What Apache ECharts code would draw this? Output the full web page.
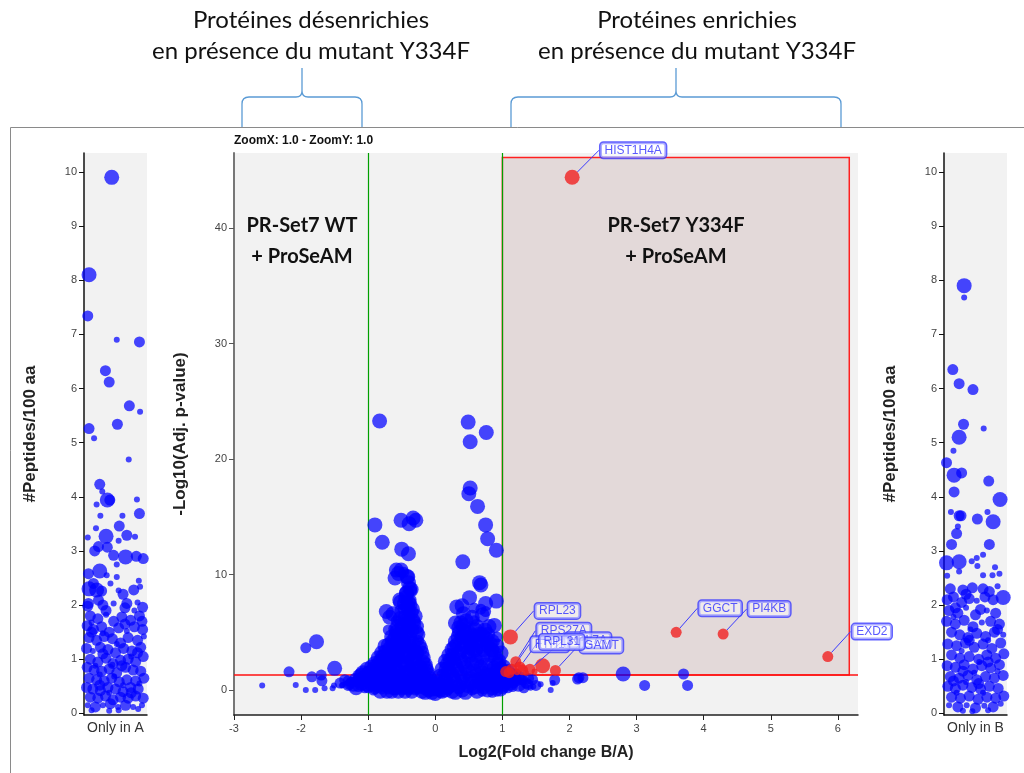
<!DOCTYPE html>
<html>
<head>
<meta charset="utf-8">
<title>Volcano plot PR-Set7</title>
<script src="https://cdn.jsdelivr.net/npm/echarts@6/dist/echarts.min.js"></script>
<style>
html,body{margin:0;padding:0;background:#fff;}
#main{width:1024px;height:773px;}
</style>
</head>
<body>
<div id="main"></div>
<script>
'use strict';
// ---- données : [x, y, taille (1 petit, 2 moyen, 3 gros)] ----
// panneau gauche : "Only in A" (x = dispersion dans la colonne)
var onlyA = [
  [0.44,9.90,3],[0.08,8.10,3],[0.06,7.34,2],[0.52,6.90,1],[0.88,6.86,2],[0.34,6.33,2],[0.40,6.12,2],
  [0.72,5.68,2],[0.89,5.57,1],[0.08,5.26,2],[0.16,5.08,1],[0.53,5.34,2],[0.71,4.69,1],[0.25,4.23,2],
  [0.29,4.10,1],[0.20,3.86,1],[0.37,3.94,3],[0.41,3.94,2],[0.84,3.95,1],[0.88,3.69,2],[0.26,3.65,1],
  [0.61,3.65,1],[0.56,3.46,2],[0.19,3.42,1],[0.68,3.29,2],[0.81,3.26,1],[0.35,3.27,3],[0.06,3.25,1],
  [0.37,3.07,2],[0.23,3.08,2],[0.17,3.00,2],[0.55,3.19,1],[0.47,2.92,2],[0.66,2.89,3],[0.83,2.90,2],
  [0.94,2.86,2],[0.52,2.75,1],[0.25,2.63,3],[0.07,2.58,2],[0.36,2.55,1],[0.52,2.52,1],[0.87,2.45,1],
  [0.08,2.30,3],[0.20,2.28,3],[0.28,2.26,2],[0.55,2.27,1],[0.79,2.28,2],[0.89,2.34,1],[0.07,2.03,2],
  [0.23,2.09,2],[0.47,2.03,1],[0.68,2.03,2],[0.93,1.96,2],
  [0.10,1.80,2],[0.22,1.75,2],[0.35,1.82,1],[0.47,1.70,2],[0.60,1.78,2],[0.74,1.72,2],[0.88,1.80,2],
  [0.05,1.62,2],[0.15,1.55,2],[0.28,1.60,2],[0.40,1.50,2],[0.55,1.58,2],[0.68,1.52,1],[0.80,1.60,2],
  [0.93,1.55,2],[0.08,1.40,2],[0.20,1.35,2],[0.32,1.42,2],[0.45,1.38,2],[0.58,1.30,2],[0.70,1.40,2],
  [0.85,1.35,2],[0.95,1.42,1],[0.04,1.20,2],[0.14,1.15,1],[0.26,1.22,2],[0.38,1.18,2],[0.50,1.12,2],
  [0.63,1.20,2],[0.76,1.15,2],[0.90,1.22,2],[0.10,1.00,2],[0.22,0.95,2],[0.35,1.02,2],[0.46,0.92,2],
  [0.58,0.98,2],[0.70,1.00,2],[0.82,0.95,2],[0.94,1.05,2],[0.05,0.85,2],[0.16,0.80,2],[0.28,0.78,2],
  [0.40,0.82,2],[0.52,0.75,2],[0.66,0.85,2],[0.78,0.80,2],[0.90,0.78,2],[0.08,0.65,2],[0.20,0.62,2],
  [0.32,0.60,2],[0.44,0.65,2],[0.56,0.58,2],[0.68,0.62,2],[0.82,0.60,2],[0.95,0.65,2],[0.04,0.48,2],
  [0.14,0.45,2],[0.26,0.42,2],[0.38,0.48,2],[0.50,0.45,2],[0.62,0.40,2],[0.74,0.48,2],[0.86,0.45,2],
  [0.10,0.30,2],[0.22,0.28,2],[0.34,0.32,2],[0.46,0.25,2],[0.58,0.30,2],[0.70,0.28,2],[0.82,0.32,2],
  [0.94,0.28,2],[0.06,0.15,1],[0.18,0.12,2],[0.30,0.15,1],[0.42,0.18,2],[0.54,0.12,1],[0.66,0.15,2],
  [0.78,0.12,1],[0.92,0.15,1],[0.12,0.06,1],[0.40,0.05,1],[0.55,0.06,1],[0.86,0.08,1],
  [0.12,1.68,1],[0.30,1.48,1],[0.52,1.28,1],[0.75,1.05,1],[0.25,0.72,1],[0.62,0.52,1],[0.40,0.38,1],
  [0.88,0.55,1],[0.18,0.88,1],[0.48,0.68,1],[0.92,1.70,2],[0.06,1.98,2],[0.30,2.00,2],[0.65,1.95,2],
  [0.85,2.05,1],[0.15,2.40,2],[0.42,2.40,1],[0.62,2.20,2],[0.35,1.90,2],[0.80,1.90,1],[0.12,1.50,2],
  [0.65,1.65,2],[0.30,1.10,2],[0.85,1.12,2],[0.60,0.88,2],[0.25,0.52,2],[0.75,0.38,2],[0.45,0.90,1]
];

// panneau droit : "Only in B"
var onlyB = [
  [0.32,7.90,3],[0.32,7.68,1],[0.14,6.35,2],[0.24,6.09,2],[0.46,5.98,2],[0.31,5.34,2],[0.63,5.26,1],
  [0.24,5.10,3],[0.15,4.85,1],[0.04,4.63,2],[0.16,4.40,3],[0.28,4.44,2],[0.71,4.29,2],[0.16,4.09,2],
  [0.89,3.95,3],[0.11,3.72,1],[0.24,3.65,2],[0.27,3.65,2],[0.53,3.59,2],[0.69,3.72,1],[0.78,3.54,3],
  [0.22,3.45,1],[0.20,3.32,2],[0.12,3.12,2],[0.72,3.12,2],[0.62,2.93,1],[0.04,2.78,3],[0.24,2.80,3],
  [0.44,2.81,1],[0.52,2.87,1],[0.53,2.72,1],[0.81,2.70,1],[0.88,2.58,1],[0.62,2.55,1],[0.05,2.54,1],
  [0.24,2.62,1],[0.77,2.55,1],[0.94,2.14,3],
  [0.05,2.10,2],[0.15,2.15,2],[0.28,2.05,2],[0.40,2.12,2],[0.52,2.08,1],[0.65,2.15,2],[0.78,2.10,2],
  [0.10,2.30,2],[0.30,2.28,2],[0.45,2.32,2],[0.62,2.30,2],[0.85,2.35,1],
  [0.08,1.90,2],[0.22,1.85,2],[0.35,1.95,1],[0.50,1.82,2],[0.68,1.90,1],[0.82,1.85,2],
  [0.04,1.70,2],[0.18,1.65,2],[0.32,1.72,2],[0.46,1.60,2],[0.60,1.68,1],[0.74,1.70,2],[0.88,1.65,2],
  [0.12,1.50,2],[0.25,1.45,2],[0.38,1.40,2],[0.52,1.48,2],[0.66,1.42,2],[0.80,1.50,2],[0.94,1.45,1],
  [0.06,1.28,2],[0.20,1.25,2],[0.34,1.30,2],[0.48,1.22,2],[0.62,1.28,2],[0.76,1.20,2],[0.90,1.30,2],
  [0.12,1.08,2],[0.25,1.02,2],[0.40,1.05,2],[0.55,1.00,2],[0.68,1.08,2],[0.82,1.02,2],[0.95,1.10,2],
  [0.05,0.88,2],[0.18,0.85,2],[0.32,0.90,2],[0.46,0.82,2],[0.60,0.88,2],[0.74,0.84,2],[0.88,0.90,2],
  [0.10,0.68,2],[0.24,0.65,2],[0.38,0.70,2],[0.52,0.62,2],[0.66,0.68,2],[0.80,0.65,2],[0.94,0.70,2],
  [0.06,0.50,2],[0.18,0.46,2],[0.30,0.52,2],[0.44,0.48,2],[0.58,0.45,2],[0.72,0.50,2],[0.86,0.46,2],
  [0.12,0.30,2],[0.26,0.28,2],[0.40,0.32,2],[0.54,0.26,2],[0.68,0.30,2],[0.82,0.28,2],[0.95,0.32,2],
  [0.08,0.15,1],[0.22,0.12,2],[0.36,0.15,1],[0.50,0.10,2],[0.64,0.14,1],[0.78,0.12,2],[0.90,0.18,1],
  [0.30,0.05,1],[0.45,0.04,1],[0.70,0.06,1],
  [0.15,1.78,1],[0.42,1.55,1],[0.70,1.35,1],[0.28,1.15,1],[0.56,0.95,1],[0.85,0.78,1],[0.35,0.58,1],
  [0.62,0.38,1],[0.20,0.38,1],[0.48,0.75,1],[0.35,2.20,2],[0.72,2.25,2],[0.18,1.95,2],[0.58,1.92,2],
  [0.40,1.35,2],[0.85,1.55,2],[0.30,0.78,2],[0.70,0.95,2],[0.15,0.60,2],[0.55,0.55,2]
];

// volcano : log2(FC B/A), -log10(p ajustée), taille
var volcanoBlue = [
  [-0.83,23.3,3],[0.49,23.2,3],[0.76,22.3,3],[0.52,21.5,3],[0.52,17.5,3],[0.50,17.0,3],[0.63,15.9,3],
  [0.75,14.3,3],[0.78,13.1,3],[0.91,12.1,3],[0.41,11.1,3],[0.66,9.3,3],[0.68,9.1,3],[0.51,8.0,3],
  [0.91,7.7,3],[0.75,7.5,3],[0.32,7.2,3],[-0.90,14.3,3],[-0.51,14.7,3],[-0.29,14.7,3],[-0.39,14.4,3],
  [-0.33,14.9,3],[-0.79,12.8,3],[-0.50,12.2,3],[-0.40,11.8,3],[-0.58,10.4,3],[-0.51,10.4,3],
  [-0.60,9.7,3],[-0.41,9.8,3],[-0.43,8.4,3],[-0.36,8.7,3],[-0.53,7.8,3],[-0.38,7.4,3],[-0.73,6.8,3],
  [-0.68,6.3,3],[-0.36,6.7,3],[-0.33,6.0,3],
  [-1.77,4.18,3],[-1.93,3.66,2],[-1.50,1.88,3],[-2.18,1.58,2],[-1.84,1.15,2],[-1.70,1.30,2],
  [-1.69,0.80,2],[-2.08,0.43,1],[-1.93,0.0,1],[-1.79,0.0,1],[-1.65,0.15,1],[-1.53,0.15,1],
  [-1.38,0.43,1],[-1.28,0.50,2],[-1.16,0.70,2],[-1.10,1.30,3],[-2.58,0.40,1],[-1.51,0.40,1],
  [-1.39,0.40,1],[-1.29,0.60,1],
  [2.80,1.39,3],[3.12,0.40,2],[3.70,1.39,2],[3.76,0.40,2],[2.14,1.07,2],[2.20,1.07,2],[1.78,0.87,2],
  [1.72,0.0,1],[1.46,0.3,1],[1.57,0.5,1],[1.75,0.6,1],[1.39,1.0,2],[1.28,0.9,2],[2.12,0.95,2],
  // lobe gauche
  [-0.55,10.1,3],[-0.47,10.2,2],[-0.42,9.8,3],[-0.40,9.3,3],[-0.38,8.8,3],[-0.43,8.4,3],[-0.35,8.6,2],
  [-0.52,7.6,3],[-0.41,7.2,3],[-0.37,6.8,2],[-0.63,6.6,3],[-0.58,6.0,2],[-0.45,6.3,3],[-0.32,5.8,3],
  [-0.50,5.6,3],[-0.70,5.2,2],[-0.65,4.6,3],[-0.28,5.0,3],[-0.55,4.8,3],[-0.42,5.1,3],[-0.38,4.5,3],
  [-0.48,4.2,3],[-0.60,4.0,3],[-0.75,3.8,3],[-0.80,3.2,3],[-0.85,2.8,3],[-0.33,4.0,3],[-0.25,4.3,2],
  [-0.22,3.6,3],[-0.28,3.2,3],[-0.45,3.5,3],[-0.55,3.3,3],[-0.66,3.0,3],[-0.72,2.6,3],[-0.90,2.3,3],
  [-0.95,2.0,3],[-1.02,1.8,3],[-1.08,1.5,3],[-1.15,1.3,2],[-1.20,1.0,2],[-1.25,0.7,2],[-0.18,2.8,3],
  [-0.15,2.2,3],[-0.12,1.6,3],[-0.08,1.0,3],[-0.05,0.5,3],[-0.03,0.1,3],[-0.35,2.6,3],[-0.42,2.2,3],
  [-0.50,2.5,3],[-0.60,2.2,3],[-0.78,2.0,3],[-0.85,1.6,3],[-0.68,1.7,3],[-0.55,1.6,3],[-0.45,1.5,3],
  [-0.32,1.8,3],[-0.25,1.4,3],[-0.20,0.9,3],[-0.30,0.9,3],[-0.40,0.8,3],[-0.50,0.9,3],[-0.62,1.0,3],
  [-0.72,1.1,3],[-0.82,1.0,3],[-0.92,1.2,3],[-1.00,0.9,3],[-1.10,0.6,3],[-0.95,0.5,3],[-0.85,0.4,3],
  [-0.75,0.5,3],[-0.65,0.4,3],[-0.55,0.3,3],[-0.45,0.3,3],[-0.35,0.3,3],[-0.25,0.3,3],[-0.15,0.2,3],
  [-0.10,0.0,3],[-0.20,-0.1,3],[-0.30,0.0,2],[-0.40,0.0,2],[-0.50,0.0,2],[-0.60,0.0,2],[-0.70,0.1,2],
  [-0.80,0.1,2],[-0.90,0.1,2],[-1.00,0.2,2],[-1.05,0.2,2],[-1.15,0.3,2],[-1.30,0.4,2],[-1.35,0.9,2],
  [-0.70,3.9,3],[-0.62,5.3,2],[-0.48,7.0,2],[-0.36,7.8,2],[-0.44,6.0,3],[-0.30,3.0,3],[-0.38,3.8,3],
  [-0.52,3.9,3],
  [-1.18,0.2,3],[-1.12,0.9,3],[-1.05,1.1,3],[-0.98,1.5,3],[-0.92,1.8,3],[-0.88,2.1,3],[-0.82,2.5,3],
  [-0.78,2.9,3],[-0.74,3.3,3],[-0.70,3.1,3],[-0.68,3.6,3],[-0.64,4.2,3],[-0.60,4.5,3],[-0.58,5.0,3],
  [-0.56,5.5,3],[-0.52,6.2,3],[-0.50,6.8,3],[-0.46,7.5,3],[-0.44,8.0,3],[-0.40,7.6,3],[-0.34,7.0,3],
  [-0.30,6.4,3],[-0.28,5.5,3],[-0.26,4.8,3],[-0.24,3.9,3],[-0.20,3.2,3],[-0.18,2.4,3],[-0.14,1.9,3],
  [-0.10,1.3,3],[-0.07,0.7,3],[-1.02,0.5,3],[-0.88,0.8,3],[-0.78,1.3,3],[-0.66,1.4,3],[-0.58,1.2,3],
  [-0.48,1.2,3],[-0.38,1.3,3],[-0.28,1.2,3],[-0.18,1.2,3],[-0.96,1.0,3],[-0.86,1.3,3],[-0.92,0.0,2],
  [-0.82,-0.1,3],[-0.72,-0.1,3],[-0.62,0.2,3],[-0.52,0.6,3],[-0.42,0.6,3],[-0.32,0.5,3],[-0.22,0.5,3],
  [-0.12,0.5,3],[-0.05,-0.2,3],[-0.15,-0.2,3],[-0.35,-0.1,3],[-0.45,-0.1,3],[-0.55,-0.1,3],
  [-0.65,-0.1,3],[-0.78,2.4,3],[-0.70,2.2,3],[-0.62,2.6,3],[-0.56,2.9,3],[-0.48,2.9,3],[-0.40,2.9,3],
  [-0.34,3.4,3],[-0.42,4.0,3],[-0.50,4.5,3],[-0.45,4.8,3],[-0.35,5.2,3],[-0.40,5.8,3],[-0.48,5.4,3],
  [-0.56,3.6,3],[-0.64,3.4,3],[-0.30,2.2,3],[-0.24,2.0,3],[-0.36,1.9,3],[-0.52,2.0,3],[-0.60,1.8,3],
  [-0.70,1.5,3],[-0.74,0.8,3],[-0.64,0.7,3],[-1.22,0.5,3],[-1.30,0.8,2],[-1.42,0.6,2],[-1.00,1.4,3],
  // lobe droit
  [0.42,6.6,3],[0.46,6.0,3],[0.55,6.3,3],[0.62,5.5,3],[0.35,5.4,3],[0.30,5.8,3],[0.70,6.5,3],
  [0.80,5.5,3],[0.88,5.6,3],[0.40,7.3,3],[0.58,7.1,2],[0.68,7.0,2],[0.75,6.8,2],[0.50,5.0,3],
  [0.40,4.6,3],[0.30,4.2,3],[0.25,3.5,3],[0.20,3.0,3],[0.15,2.5,3],[0.10,1.8,3],[0.07,1.2,3],
  [0.05,0.6,3],[0.03,0.1,3],[0.65,4.8,3],[0.75,4.5,3],[0.85,4.2,3],[0.92,3.8,3],[0.98,3.2,3],
  [0.55,4.2,3],[0.45,3.8,3],[0.35,3.2,3],[0.60,3.5,3],[0.72,3.5,3],[0.82,3.0,3],[0.95,2.5,3],
  [1.02,2.0,3],[1.08,1.6,3],[0.28,2.5,3],[0.38,2.6,3],[0.50,2.9,3],[0.62,2.5,3],[0.75,2.2,3],
  [0.88,1.9,3],[0.20,1.6,3],[0.32,1.8,3],[0.45,2.0,3],[0.57,1.7,3],[0.70,1.5,3],[0.82,1.3,3],
  [0.95,1.2,3],[1.10,1.0,3],[1.20,0.8,2],[1.30,0.9,2],[0.15,0.9,3],[0.27,1.0,3],[0.40,1.1,3],
  [0.52,1.0,3],[0.65,0.9,3],[0.78,0.8,3],[0.90,0.7,3],[1.02,0.5,3],[0.12,0.3,3],[0.22,0.4,3],
  [0.35,0.3,3],[0.48,0.4,3],[0.60,0.3,3],[0.72,0.3,3],[0.85,0.2,3],[0.97,0.1,3],[1.08,0.2,2],
  [1.15,0.3,2],[0.10,-0.1,3],[0.25,-0.1,3],[0.40,0.0,3],[0.55,0.0,2],[0.70,-0.1,2],[0.85,-0.2,2],
  [0.00,-0.3,3],[0.08,-0.2,2],[1.20,1.4,2],[1.25,1.2,2],[1.35,0.6,2],[1.42,0.2,1],[0.58,6.0,2],
  [0.45,5.5,2],[0.92,4.6,2],[0.78,3.9,3],
  [0.08,0.5,3],[0.12,1.2,3],[0.16,1.8,3],[0.18,2.2,3],[0.22,2.6,3],[0.26,3.0,3],[0.28,3.7,3],
  [0.32,3.9,3],[0.34,4.6,3],[0.36,5.0,3],[0.38,5.8,3],[0.42,5.6,3],[0.44,5.0,3],[0.48,4.5,3],
  [0.52,4.0,3],[0.56,4.7,3],[0.60,5.2,3],[0.64,4.3,3],[0.68,4.0,3],[0.70,4.8,3],[0.74,5.2,3],
  [0.78,4.8,3],[0.82,4.0,3],[0.84,3.5,3],[0.88,3.2,3],[0.90,2.8,3],[0.94,2.2,3],[0.98,1.8,3],
  [1.04,1.4,3],[1.12,1.3,3],[1.16,0.8,3],[1.24,0.5,3],[1.32,0.2,2],[1.38,0.5,2],[1.45,0.9,2],
  [1.50,0.4,2],[0.18,0.2,3],[0.30,0.6,3],[0.42,0.7,3],[0.55,0.6,3],[0.68,0.6,3],[0.80,0.5,3],
  [0.92,0.4,3],[1.05,0.9,3],[0.25,1.3,3],[0.37,1.5,3],[0.49,1.6,3],[0.62,1.3,3],[0.75,1.2,3],
  [0.88,1.1,3],[1.00,1.0,3],[0.30,2.2,3],[0.42,2.4,3],[0.55,2.3,3],[0.68,2.0,3],[0.80,1.7,3],
  [0.92,1.6,3],[0.48,3.3,3],[0.60,3.0,3],[0.70,2.8,3],[0.40,3.5,3],[0.66,3.8,3],[0.54,3.6,3],
  [0.15,0.0,3],[0.30,-0.2,3],[0.45,-0.2,3],[0.62,-0.1,3],[0.78,0.0,3],[0.92,-0.1,2],[1.00,0.3,3],
  [1.12,0.6,3]
];

// protéines significativement enrichies (sans étiquette)
var volcanoRed = [
  [1.60,2.1,3],[1.05,1.6,2],[1.10,1.5,2],[1.30,1.75,2],[1.22,1.55,1],[1.35,1.5,1],[1.48,1.6,1]
];

// protéines étiquetées
var labeledNames = ['HIST1H4A','RPL23','GGCT','PI4KB','EXD2','RPS27A','RPL7A','GAMT','FTH1','RPL31'];
var labeledPoints = [
  [2.04,44.4,3],[1.12,4.6,3],[3.59,5.0,2],[4.29,4.85,2],[5.85,2.9,2],
  [1.20,2.45,2],[1.41,1.8,2],[1.79,1.7,2],[1.14,1.8,2],[1.26,2.0,2]
];

// graduations
var fcTicks = [-3,-2,-1,0,1,2,3,4,5,6];
var pvalTicks = [0,10,20,30,40];
var pepTicks = [0,1,2,3,4,5,6,7,8,9,10];

// seuils
var fcThreshold = 1;
var pThreshold = 1.3;
var boxRight = 6.17;
var boxTop = 46.1;

// ---- style ----
var FONT = '"Liberation Sans", Arial, sans-serif';
var sizeMap = [0, 6, 11, 15];
var labelOffsets = {
  HIST1H4A:[61,-27], RPL23:[47,-26], GGCT:[44,-24], PI4KB:[46,-25], EXD2:[44,-25],
  RPS27A:[48,-31], RPL7A:[58,-29], GAMT:[46,-25], FTH1:[38,-25], RPL31:[42,-25]
};

function symSize(v) { return sizeMap[v[2]]; }

// accolades au-dessus du graphique
function brace(x0, x1, xm) {
  return 'M' + x0 + ' 127 L' + x0 + ' 104 Q' + x0 + ' 97 ' + (x0 + 7) + ' 97 L' + (xm - 6) + ' 97 Q' +
    xm + ' 97 ' + xm + ' 91 L' + xm + ' 68 M' + xm + ' 91 Q' + xm + ' 97 ' + (xm + 6) + ' 97 L' +
    (x1 - 7) + ' 97 Q' + x1 + ' 97 ' + x1 + ' 104 L' + x1 + ' 127';
}
echarts.graphic.registerShape('braceLeft', echarts.graphic.extendPath(brace(242, 362, 302), {}));
echarts.graphic.registerShape('braceRight', echarts.graphic.extendPath(brace(511, 841, 676), {}));

function txt(text, x, y, font, align) {
  return {
    type: 'text', x: x, y: y, z: 100, silent: true,
    style: {
      text: text, font: font, fill: '#111',
      textAlign: align || 'center', textVerticalAlign: 'middle'
    }
  };
}

function sideY(idx, name) {
  return {
    gridIndex: idx, type: 'value', min: -0.03, max: 10.35,
    axisLine: {show: true, lineStyle: {color: '#111', width: 1.5}},
    axisTick: {show: true, length: 5, customValues: pepTicks, lineStyle: {color: '#111'}},
    axisLabel: {customValues: pepTicks, color: '#444', fontSize: 11, fontFamily: FONT, margin: 7},
    splitLine: {show: false},
    name: name, nameLocation: 'middle', nameGap: 45,
    nameTextStyle: {color: '#222', fontSize: 17, fontWeight: 'bold', fontFamily: FONT}
  };
}

function sideX(idx, name) {
  return {
    gridIndex: idx, type: 'value', min: 0, max: 1,
    axisLine: {onZero: false, lineStyle: {color: '#111', width: 1.5}},
    axisTick: {show: false}, axisLabel: {show: false}, splitLine: {show: false},
    name: name, nameLocation: 'middle', nameGap: 6,
    nameTextStyle: {color: '#333', fontSize: 14, fontFamily: FONT}
  };
}

var blueStyle = {color: '#0000ff', opacity: 0.72};
var redStyle = {color: '#f02020', opacity: 0.8};

var myChart = echarts.init(document.getElementById('main'), null, {renderer: 'canvas'});
var option = {
  animation: false,
  backgroundColor: '#fff',
  grid: [
    {left: 84, top: 153, width: 63, height: 562, show: true, backgroundColor: '#f2f2f2', borderWidth: 0},
    {left: 234, top: 153, width: 624, height: 562, show: true, backgroundColor: '#f2f2f2', borderWidth: 0},
    {left: 944, top: 153, width: 63, height: 562, show: true, backgroundColor: '#f2f2f2', borderWidth: 0}
  ],
  xAxis: [
    sideX(0, 'Only in A'),
    {
      gridIndex: 1, type: 'value', min: -3, max: 6.3,
      axisLine: {onZero: false, lineStyle: {color: '#222', width: 1.5}},
      axisTick: {show: true, length: 5, customValues: fcTicks, lineStyle: {color: '#222'}},
      axisLabel: {customValues: fcTicks, color: '#444', fontSize: 11, fontFamily: FONT, margin: 8},
      splitLine: {show: false},
      name: 'Log2(Fold change B/A)', nameLocation: 'middle', nameGap: 30,
      nameTextStyle: {color: '#222', fontSize: 16, fontWeight: 'bold', fontFamily: FONT}
    },
    sideX(2, 'Only in B')
  ],
  yAxis: [
    sideY(0, '#Peptides/100 aa'),
    {
      gridIndex: 1, type: 'value', min: -2.16, max: 46.5,
      axisLine: {show: true, onZero: false, lineStyle: {color: '#777', width: 2}},
      axisTick: {show: true, length: 5, customValues: pvalTicks, lineStyle: {color: '#555'}},
      axisLabel: {customValues: pvalTicks, color: '#444', fontSize: 11, fontFamily: FONT, margin: 7},
      splitLine: {show: false},
      name: '-Log10(Adj. p-value)', nameLocation: 'middle', nameGap: 45,
      nameTextStyle: {color: '#222', fontSize: 17, fontWeight: 'bold', fontFamily: FONT}
    },
    sideY(2, '#Peptides/100 aa')
  ],
  series: [
    {
      type: 'scatter', xAxisIndex: 0, yAxisIndex: 0, data: onlyA,
      symbolSize: symSize, itemStyle: blueStyle, silent: true
    },
    // fond : zone encadrée + seuils (sous les points)
    {
      type: 'scatter', xAxisIndex: 1, yAxisIndex: 1, data: [], z: 1, silent: true,
      markArea: {
        silent: true, z: 1,
        itemStyle: {color: '#e3d9d9', borderColor: '#ff2020', borderWidth: 1.5},
        data: [[{coord: [fcThreshold, pThreshold]}, {coord: [boxRight, boxTop]}]]
      },
      markLine: {
        silent: true, z: 1, symbol: 'none', label: {show: false},
        data: [
          {xAxis: -fcThreshold, lineStyle: {color: '#00a000', width: 1.2, type: 'solid'}},
          {xAxis: fcThreshold, lineStyle: {color: '#00a000', width: 1.2, type: 'solid'}},
          {yAxis: pThreshold, lineStyle: {color: '#ff1010', width: 1.5, type: 'solid'}}
        ]
      }
    },
    {
      type: 'scatter', xAxisIndex: 1, yAxisIndex: 1, data: volcanoBlue, z: 2,
      symbolSize: symSize, itemStyle: blueStyle, silent: true
    },
    {
      type: 'scatter', xAxisIndex: 1, yAxisIndex: 1, data: volcanoRed, z: 3,
      symbolSize: symSize, itemStyle: redStyle, silent: true
    },
    {
      type: 'scatter', xAxisIndex: 1, yAxisIndex: 1, z: 4, silent: true,
      data: labeledPoints.map(function (p, i) { return {name: labeledNames[i], value: p}; }),
      symbolSize: symSize, itemStyle: redStyle,
      label: {
        show: true, position: 'inside', formatter: '{b}',
        color: '#3030ff', fontSize: 12, fontFamily: FONT,
        backgroundColor: 'rgba(255,255,255,0.6)', borderColor: '#3a3aff', borderWidth: 1.5,
        borderRadius: 3, padding: [2, 4, 1, 4]
      },
      labelLine: {show: true, lineStyle: {color: '#3a3aff', width: 1}},
      labelLayout: function (params) {
        var o = labelOffsets[labeledNames[params.dataIndex]];
        return {dx: o[0], dy: o[1]};
      }
    },
    {
      type: 'scatter', xAxisIndex: 2, yAxisIndex: 2, data: onlyB,
      symbolSize: symSize, itemStyle: blueStyle, silent: true
    }
  ],
  graphic: [
    {
      type: 'rect', z: 0, silent: true,
      shape: {x: 10.5, y: 127.5, width: 1100, height: 700},
      style: {fill: 'none', stroke: '#8a8a8a', lineWidth: 1}
    },
    {type: 'braceLeft', silent: true, style: {fill: 'none', stroke: '#5b9bd5', lineWidth: 1.3}},
    {type: 'braceRight', silent: true, style: {fill: 'none', stroke: '#5b9bd5', lineWidth: 1.3}},
    txt('Protéines désenrichies', 311, 20, '24px Lato'),
    txt('en présence du mutant Y334F', 311, 51, '24px Lato'),
    txt('Protéines enrichies', 697, 20, '24px Lato'),
    txt('en présence du mutant Y334F', 697, 51, '24px Lato'),
    txt('ZoomX: 1.0 - ZoomY: 1.0', 234, 141, 'bold 12px ' + FONT, 'left'),
    txt('PR-Set7 WT', 302, 226, 'bold 20px Lato'),
    txt('+ ProSeAM', 302, 257, 'bold 20px Lato'),
    txt('PR-Set7 Y334F', 676, 226, 'bold 20px Lato'),
    txt('+ ProSeAM', 676, 257, 'bold 20px Lato')
  ]
};
myChart.setOption(option);
</script>
</body>
</html>
